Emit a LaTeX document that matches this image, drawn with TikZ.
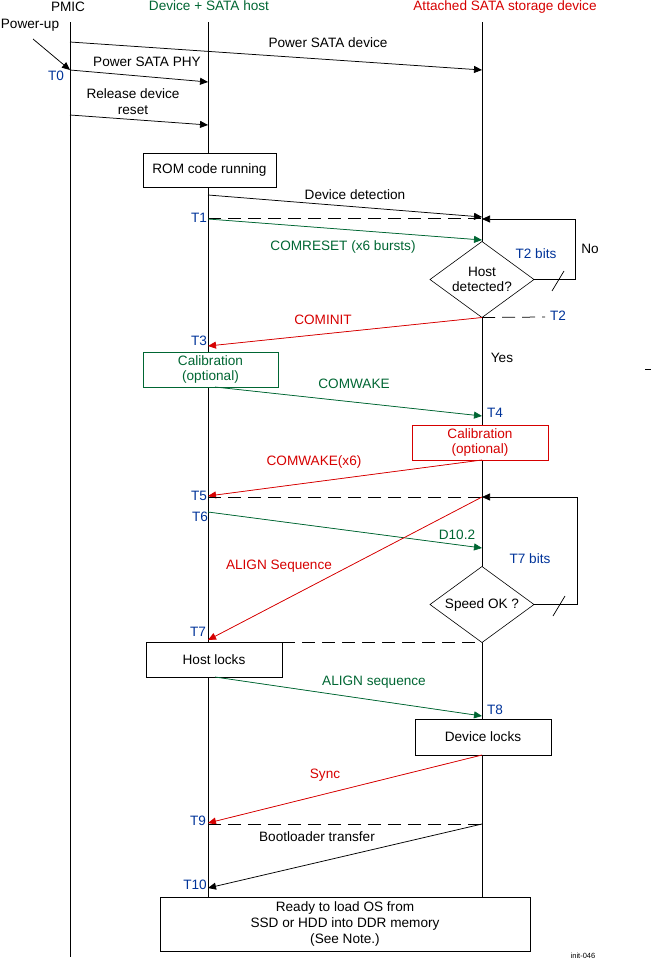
\documentclass[tikz,border=0pt]{standalone}
\usepackage{fontspec}
\setmainfont{Liberation Sans}
\usetikzlibrary{arrows.meta,shapes.geometric}
\definecolor{tigreen}{RGB}{0,102,51}
\definecolor{tired}{RGB}{214,0,0}
\definecolor{tiblue}{RGB}{0,51,153}
\tikzset{
  msg/.style={-{Triangle[length=8pt,width=7pt]}, line width=0.75pt},
  lbl/.style={font=\fontsize{13.6}{15.5}\selectfont, inner sep=0pt, align=center},
  tlbl/.style={lbl, text=tiblue},
  box/.style={draw, fill=white, line width=0.75pt, lbl, align=center},
  dec/.style={diamond, draw, fill=white, line width=0.6pt, lbl, shape aspect=1.4, minimum width=104pt, minimum height=76pt, outer sep=0pt},
  dline/.style={line width=0.75pt, dash pattern=on 13pt off 7pt},
  life/.style={line width=0.75pt}
}
\begin{document}
\begin{tikzpicture}[x=1pt,y=-1pt]
\useasboundingbox (0,0) rectangle (651,961);
% lifelines
\coordinate (pmicTop) at (70,22);
\coordinate (pmicBot) at (70,957);
\coordinate (hostTop) at (208,22);
\coordinate (hostBot) at (208,897);
\coordinate (devTop) at (482,22);
\coordinate (devBot) at (482,897);
\draw[life] (pmicTop) -- (pmicBot);
\draw[life] (hostTop) -- (hostBot);
\draw[life] (devTop) -- (devBot);

% titles
\node[lbl] (tpmic) at (68,7) {PMIC};
\node[lbl, text=tigreen] (thost) at (209,6) {Device + SATA host};
\node[lbl, text=tired] (tdev) at (505,7) {Attached SATA storage device};

% power-up
\node[lbl] (pwrup) at (30,25) {Power-up};
\coordinate (p0) at (33,39);
\coordinate (pmic70) at (70,70);
\draw[msg] (p0) -- (pmic70);
\node[tlbl] (t0) at (56,76) {T0};

\coordinate (pmic42) at (70,42);
\coordinate (dev70) at (482,70);
\draw[msg] (pmic42) -- (dev70);
\node[lbl] (lpsd) at (328,43) {Power SATA device};

\coordinate (host82) at (208,82);
\draw[msg] (pmic70) -- (host82);
\node[lbl] (lpsp) at (147,62) {Power SATA PHY};

\coordinate (pmic115) at (70,115);
\coordinate (host125) at (208,125);
\draw[msg] (pmic115) -- (host125);
\node[lbl, font=\fontsize{13.6}{16}\selectfont] (lrdr) at (133,102) {Release device\\reset};

% ROM box
\node[box, minimum width=133pt, minimum height=34pt] (rom) at (209.5,170) {ROM code running};

% device detection
\coordinate (host195) at (208,195);
\coordinate (dev217) at (482,217);
\draw[msg] (host195) -- (dev217);
\node[lbl] (ldd) at (355,195) {Device detection};

\coordinate (host218) at (208,218);
\coordinate (dev218) at (482,218);
\draw[dline] (host218) -- (dev218);
\node[tlbl] (t1) at (199,218) {T1};

\coordinate (host219) at (208,219);
\coordinate (dev240) at (482,240);
\draw[msg, draw=tigreen, fill=tigreen] (host219) -- (dev240);
\node[lbl, text=tigreen] (lcr) at (343,247) {COMRESET (x6 bursts)};

% host detected decision
\node[dec] (hd) at (482,279.5) {Host\\detected?};
\coordinate (dev219) at (482,219);
\coordinate (loop1) at (575,279.5);
\draw[msg] (hd.east) -- (loop1) |- (dev219);
\draw[line width=0.75pt] (552,291) -- (564,271);
\node[tlbl] (t2bits) at (536,254) {T2 bits};
\node[lbl] (no) at (590,249) {No};

\coordinate (t2end) at (545,317);
\draw[dline] (hd.south) -- (t2end);
\node[tlbl] (t2) at (558,316) {T2};

\coordinate (host346) at (208,346);
\draw[msg, draw=tired, fill=tired] (hd.south) -- (host346);
\node[lbl, text=tired] (lci) at (323,320) {COMINIT};
\node[tlbl] (t3) at (199,341) {T3};

\node[box, draw=tigreen, text=tigreen, minimum width=135pt, minimum height=35pt] (calg) at (210.5,369.5) {Calibration\\(optional)};
\node[lbl] (yes) at (502,358) {Yes};
\draw[line width=0.75pt] (645,369) -- (651,369);

\coordinate (calgs) at (215,387);
\coordinate (dev416) at (482,416);
\draw[msg, draw=tigreen, fill=tigreen] (calgs) -- (dev416);
\node[lbl, text=tigreen] (lcw) at (354,384) {COMWAKE};
\node[tlbl] (t4) at (495,413) {T4};

\node[box, draw=tired, text=tired, minimum width=136pt, minimum height=35pt] (calr) at (480,442.5) {Calibration\\(optional)};

\coordinate (dev460) at (482,460);
\coordinate (host496) at (208,496);
\draw[msg, draw=tired, fill=tired] (dev460) -- (host496);
\node[lbl, text=tired] (lcw6) at (314,462) {COMWAKE(x6)};
\node[tlbl] (t5) at (199,496) {T5};

\coordinate (host497) at (208,497);
\coordinate (dev497) at (482,497);
\draw[dline] (host497) -- (dev497);

\coordinate (host512) at (208,512);
\coordinate (dev548) at (482,548);
\draw[msg, draw=tigreen, fill=tigreen] (host512) -- (dev548);
\node[lbl, text=tigreen] (ld10) at (457,535) {D10.2};
\node[tlbl] (t6) at (200,517) {T6};

% speed OK decision
\node[dec] (sok) at (482,604.5) {Speed OK ?};
\coordinate (loop2) at (577,604.5);
\draw[msg] (sok.east) -- (loop2) |- (dev497);
\draw[line width=0.75pt] (553,616) -- (565,596);
\node[tlbl] (t7bits) at (530,559) {T7 bits};

\coordinate (host640) at (208,640);
\draw[msg, draw=tired, fill=tired] (dev497) -- (host640);
\node[lbl, text=tired] (lal) at (279,566) {ALIGN Sequence};
\node[tlbl] (t7) at (198,632) {T7};

\node[box, minimum width=136pt, minimum height=35pt, outer sep=0pt] (hl) at (214,659.5) {Host locks};
\coordinate (dev642) at (482,642);
\draw[dline] (hl.north east) -- (dev642);

\coordinate (hls) at (215,677);
\coordinate (dev716) at (482,716);
\draw[msg, draw=tigreen, fill=tigreen] (hls) -- (dev716);
\node[lbl, text=tigreen] (lals) at (374,682) {ALIGN sequence};
\node[tlbl] (t8) at (495,710) {T8};

\node[box, minimum width=136pt, minimum height=36pt] (dl) at (483,737) {Device locks};

\coordinate (dev755) at (482,755);
\coordinate (host823) at (208,823);
\draw[msg, draw=tired, fill=tired] (dev755) -- (host823);
\node[lbl, text=tired] (lsync) at (325,775) {Sync};
\node[tlbl] (t9) at (198,821) {T9};

\coordinate (host824) at (208,824);
\coordinate (dev824) at (482,824);
\draw[dline] (host824) -- (dev824);

\coordinate (host888) at (208,888);
\draw[msg] (dev824) -- (host888);
\node[lbl] (lboot) at (317,837) {Bootloader transfer};
\node[tlbl] (t10) at (195,885) {T10};

\node[box, minimum width=370pt, minimum height=54pt, font=\fontsize{13.6}{16}\selectfont] (ready) at (345,924) {Ready to load OS from\\SSD or HDD into DDR memory\\(See Note.)};

\node[lbl, font=\fontsize{7.5}{8}\selectfont] (fig) at (583,956) {init-046};
\end{tikzpicture}
\end{document}
